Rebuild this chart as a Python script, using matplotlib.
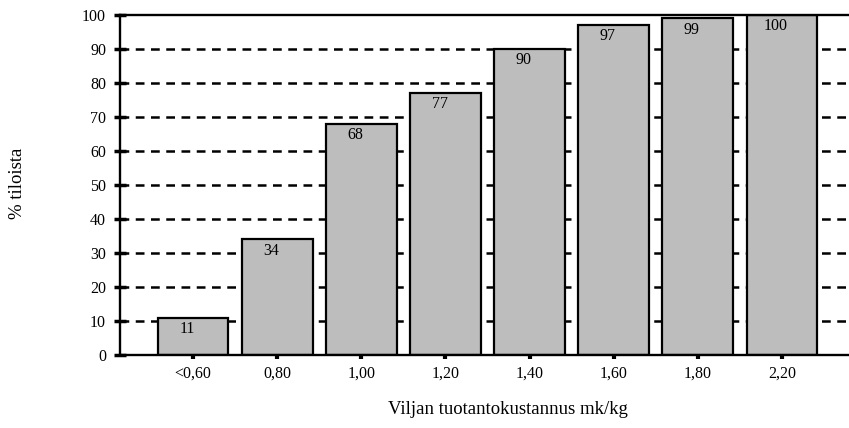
import numpy as np
import matplotlib
matplotlib.use("Agg")
import matplotlib.pyplot as plt

# Kumulatiivinen osuus tiloista tuotantokustannuksen mukaan
luokat = ["<0,60", "0,80", "1,00", "1,20", "1,40", "1,60", "1,80", "2,20"]
osuus = [11, 34, 68, 77, 90, 97, 99, 100]
y_ticks = [0, 10, 20, 30, 40, 50, 60, 70, 80, 90, 100]

plt.rcParams['font.family'] = ['Liberation Serif', 'DejaVu Serif']

fig = plt.figure(figsize=(8.49, 4.28), dpi=100)
ax = fig.add_axes([120/849, 1 - 355/428, 735/849, 340/428])

x = np.arange(len(luokat))

# katkoviivat taustalle
for yv in y_ticks[1:-1]:
    ax.axhline(yv, color='black', lw=1.8, ls=(0, (3.5, 2.6)), zorder=1)

ax.bar(x, osuus, width=0.84, color='#bdbdbd', edgecolor='black', lw=1.6, zorder=2)

for xi, v in zip(x, osuus):
    ax.text(xi - 0.07, v - 3.3, str(v), ha='center', va='center', fontsize=11.5, zorder=3)

ax.set_xlim(-0.87, len(luokat) - 1 + 0.87)
ax.set_ylim(0, 100)
ax.set_yticks(y_ticks)
ax.set_xticks(x)
ax.set_xticklabels(luokat)

ax.tick_params(axis='y', direction='inout', length=8, width=2.5, labelsize=11.5, pad=6)
ax.tick_params(axis='x', direction='out', length=3, width=3, labelsize=11.5, pad=5)

for s in ['left', 'bottom', 'top']:
    ax.spines[s].set_linewidth(1.7)
ax.spines['right'].set_visible(False)

fig.text(18/849, 1 - 183/428, "% tiloista", rotation=90, ha='center', va='center', fontsize=13.5)
fig.text(508/849, 1 - 410/428, "Viljan tuotantokustannus mk/kg", ha='center', va='center', fontsize=13.5)

fig.savefig("out.png", dpi=100)
